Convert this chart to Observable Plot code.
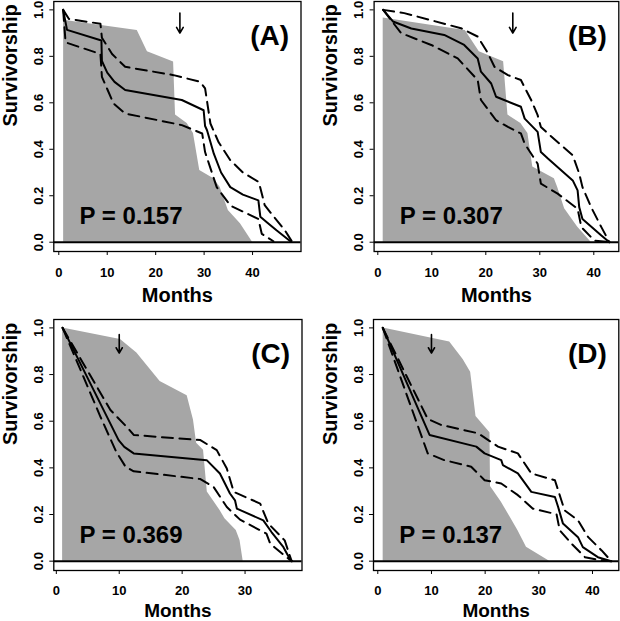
<!DOCTYPE html>
<html>
<head>
<meta charset="utf-8">
<script src="https://cdn.jsdelivr.net/npm/d3@7"></script>
<script src="https://cdn.jsdelivr.net/npm/@observablehq/plot@0.6"></script>
<style>
  html, body { margin: 0; padding: 0; background: white; }
  #wrap { position: relative; width: 620px; height: 621px; overflow: hidden; background: white; }
  #wrap > svg { position: absolute; }
</style>
</head>
<body>
<div id="wrap"></div>
<script>
// ---------------- data ----------------
const panelLabels = ["(A)", "(B)", "(C)", "(D)"];
const pValues = ["0.157", "0.307", "0.369", "0.137"];
const xTicksAB = [0, 10, 20, 30, 40];
const xTicksC = [0, 10, 20, 30];
const xTicksD = [0, 10, 20, 30, 40];
const yTicks = [0, 0.2, 0.4, 0.6, 0.8, 1.0];
const xLabel = "Months";
const yLabel = "Survivorship";

// Panel A
const aGray = [[1,0.955],[16.2,0.911],[18.3,0.82],[19.5,0.81],[23.7,0.776],[24.1,0.547],[26.5,0.511],[27.8,0.468],[29.1,0.309],[32,0.273],[33.3,0.237],[35,0.137],[37.5,0.079],[40,0]];
const aMid = [[0.9,1],[1.7,0.914],[8.8,0.868],[8.9,0.78],[10,0.73],[11.5,0.69],[13.7,0.655],[25.4,0.612],[29.9,0.568],[30.2,0.5],[30.6,0.482],[32,0.381],[33.5,0.3],[35.4,0.237],[38,0.205],[41.2,0.18],[41.6,0.11],[43,0.085],[45,0.05],[47.8,0.004]];
const aUpper = [[0.9,1],[2.1,0.961],[8.6,0.94],[8.9,0.88],[11,0.81],[13.7,0.755],[23.7,0.719],[29.2,0.69],[30.2,0.662],[31.3,0.511],[33,0.43],[35.4,0.353],[38,0.3],[41.3,0.259],[42.5,0.16],[44,0.12],[46.7,0.05],[48.1,0.004]];
const aLower = [[0.9,1],[1.4,0.86],[8.6,0.81],[8.9,0.712],[11.3,0.597],[13.7,0.554],[25.4,0.504],[29.6,0.468],[30.2,0.388],[32.6,0.237],[35.4,0.158],[41.2,0.1],[41.9,0.036],[44.3,0.004]];
const aArrow = [25, 0.986, 0.9];

// Panel B
const bGray = [[1,0.965],[16.2,0.911],[18.8,0.82],[23.3,0.777],[24.1,0.547],[26.5,0.511],[27.8,0.468],[28.7,0.324],[32.7,0.273],[33.3,0.237],[34.6,0.144],[37,0.065],[39.5,0]];
const bMid = [[1,1],[2.8,0.95],[6.2,0.92],[12.3,0.892],[16,0.849],[18.5,0.791],[19.1,0.734],[21,0.683],[21.9,0.626],[26.5,0.583],[27.2,0.532],[29.6,0.475],[30.2,0.388],[31.5,0.36],[36.1,0.266],[37,0.223],[37.3,0.151],[37.9,0.1],[41.4,0.029],[42.9,0]];
const bUpper = [[1,1],[4.9,0.986],[15.4,0.921],[18.5,0.885],[20.4,0.813],[21.6,0.755],[24.1,0.719],[26.5,0.698],[28.4,0.612],[29.6,0.547],[30.2,0.496],[31.5,0.468],[36.1,0.374],[37.3,0.295],[37.9,0.237],[39.5,0.151],[41.4,0.065],[42.9,0]];
const bLower = [[1,1],[4.3,0.9],[9.9,0.849],[14.8,0.791],[18.5,0.698],[19.1,0.612],[21.9,0.525],[24.1,0.496],[26.5,0.468],[27.2,0.424],[29.6,0.338],[30.2,0.252],[33.3,0.209],[37,0.144],[37.7,0.065],[40.1,0.007],[42.9,0]];
const bArrow = [25, 0.986, 0.9];

// Panel C
const cGray = [[1,1],[10.2,0.95],[12.8,0.892],[16.5,0.77],[20.8,0.709],[21.8,0.605],[22.3,0.505],[23.4,0.476],[24.0,0.297],[26.0,0.218],[26.8,0.182],[28.6,0.132],[29.2,0.089],[29.7,0]];
const cMid = [[1,1],[9.9,0.519],[10.8,0.49],[12.3,0.462],[23.9,0.433],[26,0.376],[27.6,0.29],[28.4,0.261],[28.7,0.225],[32.9,0.175],[34.2,0.125],[36.1,0.06],[37.1,0.01],[37.5,0]];
const cUpper = [[1,1],[8.6,0.648],[11.25,0.574],[12.3,0.541],[22.9,0.519],[25.5,0.476],[27.1,0.397],[28.2,0.297],[32.4,0.247],[33.7,0.161],[36.3,0.089],[37.4,0]];
const cLower = [[1,1],[7,0.62],[9.5,0.47],[11,0.405],[12.3,0.385],[22.9,0.352],[25,0.318],[27.1,0.232],[29.2,0.178],[33.4,0.118],[34,0.075],[36.6,0.017],[37.4,0]];
const cArrow = [10, 0.971, 0.892];

// Panel D
const dGray = [[1,1],[13.4,0.94],[15.9,0.865],[17.3,0.81],[18.3,0.62],[19.9,0.577],[20.9,0.55],[21,0.32],[23,0.254],[26.1,0.132],[27.7,0.06],[32,0]];
const dMid = [[0.93,1],[9.64,0.541],[18.35,0.491],[19.9,0.462],[23,0.433],[23.3,0.412],[26.1,0.376],[28.6,0.297],[33,0.275],[33.6,0.232],[34.5,0.161],[37.3,0.103],[38.2,0.06],[41,0.017],[43.5,0]];
const dUpper = [[0.93,1],[9.3,0.61],[11.8,0.584],[18.7,0.548],[22.4,0.491],[26.1,0.462],[28.6,0.376],[33,0.347],[33.6,0.304],[34.8,0.218],[37.3,0.175],[39.2,0.103],[41.7,0.046],[43.5,0]];
const dLower = [[0.93,1],[9.3,0.462],[12.4,0.433],[17.4,0.405],[19.9,0.347],[23,0.333],[26.1,0.283],[28.9,0.225],[33.3,0.201],[33.9,0.132],[36.1,0.075],[38.6,0.017],[41,0.006],[43.5,0]];
const dArrow = [10, 0.971, 0.892];

// ---------------- drawing ----------------
const FONT = "'Liberation Sans', Arial, Helvetica, sans-serif";
const GRAY = "#a6a6a6";
const DASH = "11,6.5";
const X = d => d[0], Y = d => d[1];

function panel(cfg) {
  const chart = Plot.plot({
    width: cfg.width,
    height: cfg.height,
    marginTop: cfg.mt, marginBottom: cfg.mb, marginLeft: cfg.ml, marginRight: cfg.mr,
    style: {fontFamily: FONT, fontWeight: "bold", background: "white", overflow: "visible"},
    x: {domain: cfg.xDomain},
    y: {domain: [-0.04, 1.036]},
    marks: [
      Plot.areaY(cfg.gray, {x: X, y: Y, fill: GRAY, curve: "linear"}),
      Plot.ruleY([0], {stroke: "black", strokeWidth: 2}),
      Plot.line(cfg.upper, {x: X, y: Y, stroke: "black", strokeWidth: 2, strokeDasharray: DASH}),
      Plot.line(cfg.lower, {x: X, y: Y, stroke: "black", strokeWidth: 2, strokeDasharray: DASH}),
      Plot.line(cfg.mid, {x: X, y: Y, stroke: "black", strokeWidth: 2}),
      Plot.arrow([cfg.arrow], {x: d => d[0], y1: d => d[1], y2: d => d[2], stroke: "black", strokeWidth: 1.6, headLength: 11, headAngle: 60}),
      Plot.frame({stroke: "black", strokeWidth: 1.3}),
      Plot.axisX({ticks: cfg.xTicks, tickSize: 4, tickPadding: cfg.tickPad, lineAnchor: "bottom", fontSize: 13, fontWeight: "bold", label: null, tickFormat: d => String(d)}),
      Plot.axisY({ticks: yTicks, tickSize: 4, tickPadding: 7, tickRotate: -90, textAnchor: "middle", lineAnchor: "bottom", fontSize: 13, fontWeight: "bold", label: null, tickFormat: d => d.toFixed(1)}),
      Plot.text([cfg.label], {text: d => d, frameAnchor: "top-right", textAnchor: "end", lineAnchor: "bottom", dx: -12, dy: 43, fontSize: 28, fontWeight: "bold", fill: "black"}),
      Plot.text([cfg.p], {text: d => "P = " + d, frameAnchor: "bottom-left", textAnchor: "start", lineAnchor: "bottom", dx: 25.7, dy: -28, fontSize: 24, fontWeight: "bold", fill: "black"}),
      Plot.text([xLabel], {text: d => d, frameAnchor: "bottom", lineAnchor: "bottom", dy: cfg.xlabDy, fontSize: cfg.xlabSize, fontWeight: "bold", fill: "black"}),
      Plot.text([yLabel], {text: d => d, frameAnchor: "left", rotate: -90, lineAnchor: "bottom", dx: -37, fontSize: 20, fontWeight: "bold", fill: "black"})
    ]
  });
  chart.style.left = cfg.left + "px";
  chart.style.top = cfg.top + "px";
  document.getElementById("wrap").appendChild(chart);
}

panel({left: 0, top: 0, width: 310, height: 310, mt: 1, mb: 59, ml: 53.3, mr: 9.5, xlabDy: 50, xlabSize: 20, tickPad: 21.7,
  xDomain: [-1.03, 50.0], xTicks: xTicksAB, gray: aGray, mid: aMid, upper: aUpper, lower: aLower,
  arrow: aArrow, label: panelLabels[0], p: pValues[0]});
panel({left: 310, top: 0, width: 310, height: 310, mt: 1, mb: 59, ml: 63.6, mr: 1.7, xlabDy: 50, xlabSize: 20, tickPad: 21.7,
  xDomain: [-0.685, 44.63], xTicks: xTicksAB, gray: bGray, mid: bMid, upper: bUpper, lower: bLower,
  arrow: bArrow, label: panelLabels[1], p: pValues[1]});
panel({left: 0, top: 310, width: 310, height: 311, mt: 9, mb: 51, ml: 53.3, mr: 8.5, xlabDy: 46.5, xlabSize: 19, tickPad: 20.7,
  xDomain: [-0.4, 39.05], xTicks: xTicksC, gray: cGray, mid: cMid, upper: cUpper, lower: cLower,
  arrow: cArrow, label: panelLabels[2], p: pValues[2]});
panel({left: 310, top: 310, width: 310, height: 311, mt: 9, mb: 51, ml: 63.0, mr: 1.7, xlabDy: 46.5, xlabSize: 19, tickPad: 20.7,
  xDomain: [-0.8, 44.9], xTicks: xTicksD, gray: dGray, mid: dMid, upper: dUpper, lower: dLower,
  arrow: dArrow, label: panelLabels[3], p: pValues[3]});
</script>
</body>
</html>
